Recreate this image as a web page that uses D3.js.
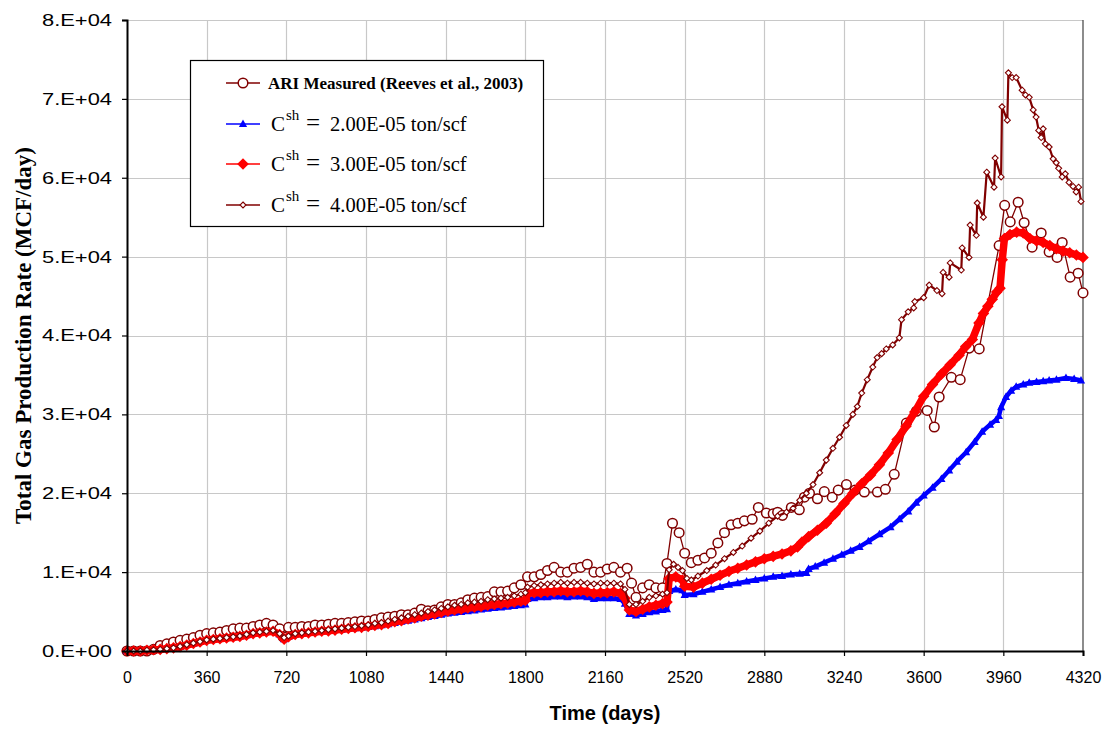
<!DOCTYPE html>
<html>
<head>
<meta charset="utf-8">
<script src="https://cdn.jsdelivr.net/npm/d3@7"></script>
<style>
  body { margin: 0; background: #fff; }
  svg { display: block; }
  .axis text { font-family: "Liberation Sans", Arial, sans-serif; fill: #000; }
</style>
</head>
<body>
<svg id="chart" width="1110" height="729"></svg>
<script>
// Axis ticks and labels
const xTicks = [0, 360, 720, 1080, 1440, 1800, 2160, 2520, 2880, 3240, 3600, 3960, 4320];
const yTicks = [0, 10000, 20000, 30000, 40000, 50000, 60000, 70000, 80000];
const yTickLabels = ["0.E+00", "1.E+04", "2.E+04", "3.E+04", "4.E+04", "5.E+04", "6.E+04", "7.E+04", "8.E+04"];

// ARI measured gas rate, [day, MCF/day]
const measured = [[0,0],[30,0],[60,0],[90,0],[120,200],[150,700],[180,900],[210,1150],[240,1350],[270,1500],[300,1700],[330,2000],[360,2200],[390,2300],[420,2400],[450,2600],[480,2800],[510,2900],[540,2900],[570,3100],[600,3300],[630,3500],[660,3300],[690,2800],[705,1800],[730,3000],[760,3000],[790,3100],[820,3100],[850,3300],[880,3300],[910,3400],[940,3500],[970,3500],[1000,3600],[1030,3700],[1060,3800],[1090,3800],[1120,4000],[1150,4200],[1180,4300],[1210,4400],[1240,4600],[1270,4600],[1300,4800],[1330,5300],[1360,5100],[1390,5200],[1420,5600],[1450,5900],[1480,5900],[1510,6100],[1540,6500],[1570,6700],[1600,6800],[1630,6900],[1660,7500],[1690,7500],[1720,7600],[1750,8000],[1780,8400],[1810,9400],[1840,9400],[1870,9700],[1900,10200],[1930,10600],[1960,10000],[1990,10000],[2020,10500],[2050,10600],[2080,11000],[2110,10000],[2140,10000],[2170,10400],[2200,10600],[2230,10000],[2260,10500],[2280,8600],[2300,6800],[2330,8000],[2360,8400],[2390,8000],[2420,8000],[2440,11100],[2465,16200],[2495,15000],[2520,12400],[2550,11200],[2580,11500],[2610,11800],[2640,12400],[2670,13700],[2700,15000],[2730,16000],[2760,16200],[2790,16500],[2825,16700],[2853,18200],[2889,17500],[2920,17400],[2940,17600],[2962,17200],[3002,18200],[3038,17900],[3061,19500],[3084,20000],[3120,19300],[3151,20200],[3187,19500],[3214,20400],[3251,21100],[3290,20400],[3332,20150],[3391,20150],[3427,20500],[3467,22400],[3522,28900],[3567,30400],[3616,30500],[3648,28400],[3670,32200],[3725,34700],[3765,34400],[3806,38400],[3851,38300],[3941,51400],[3966,56500],[3991,54400],[4027,56900],[4054,54300],[4090,51200],[4131,53000],[4167,50600],[4203,49900],[4226,51800],[4262,47400],[4298,47900],[4320,45400]];

// Simulated rate, Csh = 2.00E-05 ton/scf
const sim2 = [[0,0],[30,0],[60,0],[90,100],[120,150],[150,200],[180,300],[210,400],[240,550],[270,750],[300,950],[330,1150],[360,1350],[390,1450],[420,1550],[450,1650],[480,1750],[510,1850],[540,2000],[570,2200],[600,2300],[630,2400],[660,2500],[690,2100],[710,1500],[730,1800],[760,2100],[790,2200],[820,2300],[850,2400],[880,2500],[910,2550],[940,2650],[970,2700],[1000,2800],[1030,2900],[1060,2950],[1090,3050],[1120,3150],[1150,3250],[1180,3400],[1210,3550],[1240,3700],[1270,3850],[1300,4000],[1330,4150],[1360,4300],[1390,4450],[1420,4600],[1450,4750],[1480,4850],[1510,4950],[1540,5050],[1570,5150],[1600,5250],[1630,5350],[1660,5450],[1690,5500],[1720,5600],[1750,5700],[1780,5800],[1800,5900],[1810,6600],[1840,6700],[1870,6800],[1900,6800],[1930,6900],[1960,6900],[1990,6800],[2020,6900],[2050,6900],[2080,6800],[2110,6600],[2140,6700],[2170,6700],[2200,6700],[2230,6600],[2250,6000],[2270,4700],[2300,4500],[2330,4700],[2360,4900],[2390,5000],[2420,5200],[2440,5300],[2450,7600],[2480,7800],[2510,7700],[2520,7100],[2560,7200],[2600,7500],[2640,7800],[2680,8100],[2720,8400],[2760,8600],[2800,8800],[2840,9000],[2880,9200],[2920,9400],[2960,9500],[3000,9700],[3040,9800],[3070,9900],[3080,10400],[3110,10700],[3150,11200],[3190,11700],[3230,12200],[3270,12700],[3310,13200],[3350,13900],[3400,14800],[3450,15700],[3490,16700],[3530,17700],[3566,18800],[3600,19700],[3640,20700],[3680,21800],[3715,22900],[3750,24000],[3792,25200],[3830,26500],[3864,27800],[3900,28700],[3927,29300],[3940,29800],[3950,30900],[3972,32200],[3995,33000],[4018,33500],[4050,33800],[4077,34000],[4110,34100],[4140,34200],[4167,34300],[4200,34400],[4243,34600],[4280,34500],[4311,34300]];

// Simulated rate, Csh = 3.00E-05 ton/scf
const sim3 = [[0,0],[30,0],[60,0],[90,100],[120,150],[150,200],[180,300],[210,400],[240,550],[270,750],[300,950],[330,1150],[360,1350],[390,1450],[420,1550],[450,1650],[480,1750],[510,1850],[540,2000],[570,2200],[600,2300],[630,2400],[660,2500],[690,2100],[710,1500],[730,1800],[760,2100],[790,2200],[820,2300],[850,2400],[880,2500],[910,2550],[940,2650],[970,2750],[1000,2850],[1030,2950],[1060,3000],[1090,3100],[1120,3250],[1150,3350],[1180,3500],[1210,3700],[1240,3850],[1270,4050],[1300,4200],[1330,4400],[1360,4550],[1390,4700],[1420,4900],[1450,5050],[1480,5200],[1510,5300],[1540,5450],[1570,5550],[1600,5650],[1630,5800],[1660,5900],[1690,6000],[1720,6050],[1750,6200],[1780,6300],[1800,6400],[1810,7300],[1840,7400],[1870,7400],[1900,7500],[1930,7500],[1960,7600],[1990,7500],[2020,7500],[2050,7600],[2080,7500],[2110,7300],[2140,7400],[2170,7400],[2200,7500],[2230,7300],[2250,6700],[2270,5200],[2300,5000],[2330,5300],[2360,5600],[2390,5800],[2420,6000],[2440,6200],[2450,9200],[2480,9400],[2510,9000],[2520,8200],[2560,8100],[2600,8600],[2640,9100],[2680,9600],[2720,10100],[2760,10500],[2800,10900],[2840,11300],[2880,11700],[2920,12000],[2960,12300],[3000,12700],[3030,13200],[3050,13800],[3080,14500],[3120,15300],[3160,16200],[3200,17400],[3240,18700],[3280,20000],[3320,21200],[3360,22300],[3400,23600],[3440,25100],[3480,26800],[3520,28500],[3560,30300],[3600,32300],[3640,33800],[3680,35100],[3720,36300],[3760,37500],[3790,38600],[3820,39500],[3850,41600],[3870,42800],[3890,43700],[3910,44600],[3930,45500],[3945,46000],[3955,49600],[3965,52300],[3990,52800],[4020,53100],[4050,53000],[4080,52300],[4110,52000],[4140,51800],[4170,51400],[4200,51000],[4230,50700],[4260,50500],[4290,50200],[4320,49900]];

// Simulated rate, Csh = 4.00E-05 ton/scf
const sim4 = [[0,0],[30,0],[60,0],[90,100],[120,150],[150,200],[180,300],[210,400],[240,600],[270,800],[300,1000],[330,1200],[360,1400],[390,1500],[420,1600],[450,1700],[480,1800],[510,1900],[540,2100],[570,2300],[600,2400],[630,2500],[660,2600],[690,2200],[710,1700],[730,1900],[760,2200],[790,2300],[820,2400],[850,2500],[880,2600],[910,2700],[940,2800],[970,2900],[1000,3000],[1030,3100],[1060,3200],[1090,3300],[1120,3500],[1150,3600],[1180,3800],[1210,4000],[1240,4200],[1270,4400],[1300,4600],[1330,4800],[1360,5000],[1390,5200],[1420,5400],[1450,5600],[1480,5800],[1510,5900],[1540,6100],[1570,6200],[1600,6300],[1630,6500],[1660,6600],[1690,6700],[1720,6800],[1750,7000],[1780,7200],[1800,7400],[1810,8100],[1840,8300],[1870,8400],[1900,8500],[1930,8600],[1960,8700],[1990,8600],[2020,8700],[2050,8700],[2080,8600],[2110,8500],[2140,8600],[2170,8600],[2200,8600],[2230,8500],[2250,7800],[2270,5900],[2300,5900],[2330,6300],[2360,6800],[2390,7000],[2420,7200],[2440,7400],[2450,10300],[2470,11000],[2490,10600],[2510,10200],[2530,9200],[2550,9000],[2580,9500],[2620,10200],[2660,10900],[2700,11700],[2740,12500],[2780,13300],[2820,14300],[2860,15200],[2900,16200],[2940,17100],[2980,17600],[3010,18100],[3040,19100],[3070,20000],[3100,21100],[3130,22600],[3160,24200],[3190,25700],[3220,27100],[3250,28600],[3280,30000],[3300,31000],[3320,32700],[3345,34400],[3370,36000],[3390,37200],[3410,37700],[3431,38300],[3460,38800],[3490,39700],[3500,42000],[3530,43000],[3555,43500],[3560,44300],[3600,44800],[3625,46400],[3660,45700],[3683,45300],[3688,48000],[3715,47400],[3720,49200],[3770,48300],[3774,51100],[3805,49900],[3810,54000],[3838,52700],[3842,56800],[3870,55000],[3885,60700],[3918,58800],[3923,62500],[3950,60100],[3954,69000],[3978,67300],[3983,73300],[4000,72700],[4018,72700],[4045,71100],[4060,70500],[4077,70200],[4095,68600],[4108,67700],[4120,66000],[4131,65100],[4140,66200],[4150,64300],[4167,63900],[4185,62400],[4199,61900],[4210,61200],[4226,60100],[4240,60500],[4257,59400],[4275,58900],[4289,58200],[4300,58800],[4311,57000]];

const svg = d3.select("#chart");
const plot = { left: 127, right: 1083, top: 20, bottom: 651 };
const serif = '"Liberation Serif", "Times New Roman", serif';
const sans = '"Liberation Sans", Arial, sans-serif';

const x = d3.scaleLinear().domain([0, 4320]).range([plot.left, plot.right]);
const y = d3.scaleLinear().domain([0, 80000]).range([plot.bottom, plot.top]);

// gridlines
const grid = svg.append("g");
grid.selectAll("line.v").data(xTicks.slice(1, -1)).join("line")
  .attr("x1", d => Math.round(x(d)) + 0.5).attr("x2", d => Math.round(x(d)) + 0.5)
  .attr("y1", plot.top).attr("y2", plot.bottom)
  .attr("stroke", "#c8c8c8").attr("stroke-width", 1.2);
grid.selectAll("line.h").data(yTicks.slice(1)).join("line")
  .attr("x1", plot.left).attr("x2", plot.right)
  .attr("y1", d => Math.round(y(d)) + 0.5).attr("y2", d => Math.round(y(d)) + 0.5)
  .attr("stroke", "#c8c8c8").attr("stroke-width", 1.2);
// right edge of plot area
svg.append("line")
  .attr("x1", x(4320)).attr("x2", x(4320))
  .attr("y1", plot.top).attr("y2", plot.bottom)
  .attr("stroke", "#404040").attr("stroke-width", 1.2);

// marker shapes
const diamond = r => `M0,${-r}L${r},0L0,${r}L${-r},0Z`;
const triangle = s => `M0,${-s * 0.6}L${s * 0.55},${s * 0.4}L${-s * 0.55},${s * 0.4}Z`;

const line = d3.line().x(d => x(d[0])).y(d => y(d[1]));

// each series: connecting line (band width for the dense simulated runs) plus markers
const series = [
  { data: measured, color: "#800000", width: 1.3, band: 1.3,
    draw: g => g.append("circle").attr("r", 4.8).attr("fill", "#fff").attr("stroke", "#800000").attr("stroke-width", 1.5) },
  { data: sim2, color: "#0000ff", width: 1.5, band: 4.5,
    draw: g => g.append("path").attr("d", triangle(7.5)).attr("fill", "#0000ff") },
  { data: sim3, color: "#ff0000", width: 1.5, band: 7.5,
    draw: g => g.append("path").attr("d", diamond(5.8)).attr("fill", "#ff0000") },
  { data: sim4, color: "#800000", width: 1.5, band: 2.2,
    draw: g => g.append("path").attr("d", diamond(3)).attr("fill", "#fff").attr("stroke", "#800000").attr("stroke-width", 1.1) }
];

series.forEach(s => {
  const g = svg.append("g");
  g.append("path").datum(s.data).attr("d", line)
    .attr("fill", "none").attr("stroke", s.color).attr("stroke-width", s.band)
    .attr("stroke-linejoin", "round");
  g.selectAll("g.m").data(s.data).join("g")
    .attr("transform", d => `translate(${x(d[0])},${y(d[1])})`)
    .each(function () { s.draw(d3.select(this)); });
});

// axes
const xAxis = d3.axisBottom(x).tickValues(xTicks).tickFormat(d => d).tickSize(5).tickPadding(16);
const yAxis = d3.axisLeft(y).tickValues(yTicks).tickFormat((d, i) => yTickLabels[i]).tickSize(5).tickPadding(10);

const gx = svg.append("g").attr("class", "axis").attr("transform", `translate(0,${plot.bottom})`).call(xAxis);
const gy = svg.append("g").attr("class", "axis").attr("transform", `translate(${plot.left},0)`).call(yAxis);
[gx, gy].forEach(g => {
  g.select(".domain").attr("stroke", "#000").attr("stroke-width", 2);
  g.selectAll(".tick line").attr("stroke", "#000").attr("stroke-width", 1.2);
  g.selectAll(".tick text").attr("font-size", 16);
});
gy.selectAll(".tick text")
  .attr("font-size", 17)
  .attr("textLength", 70).attr("lengthAdjust", "spacingAndGlyphs");

// axis titles
svg.append("text").attr("x", (plot.left + plot.right) / 2).attr("y", 720)
  .attr("text-anchor", "middle")
  .attr("font-family", sans)
  .attr("font-weight", "bold").attr("font-size", 20)
  .text("Time (days)");
svg.append("text")
  .attr("transform", `translate(31,${(plot.top + plot.bottom) / 2}) rotate(-90)`)
  .attr("text-anchor", "middle")
  .attr("font-family", serif)
  .attr("font-weight", "bold").attr("font-size", 23)
  .text("Total Gas Production Rate (MCF/day)");

// legend
const legendItems = [
  { label: "ARI Measured (Reeves et al., 2003)", s: series[0] },
  { label: "2.00E-05 ton/scf", s: series[1] },
  { label: "3.00E-05 ton/scf", s: series[2] },
  { label: "4.00E-05 ton/scf", s: series[3] }
];
const legend = svg.append("g");
legend.append("rect").attr("x", 190.5).attr("y", 60.5).attr("width", 353).attr("height", 166)
  .attr("fill", "#fff").attr("stroke", "#000").attr("stroke-width", 1.2);
const rowY = [83, 124, 164, 205];
legendItems.forEach((item, i) => {
  const row = legend.append("g").attr("transform", `translate(0,${rowY[i]})`);
  row.append("line").attr("x1", 226).attr("x2", 260).attr("y1", 0).attr("y2", 0)
    .attr("stroke", item.s.color).attr("stroke-width", item.s.width);
  item.s.draw(row.append("g").attr("transform", "translate(243,0)"));
  if (i === 0) {
    row.append("text").attr("x", 268).attr("y", 6)
      .attr("font-family", serif)
      .attr("font-weight", "bold").attr("font-size", 17)
      .text(item.label);
  } else {
    const t = row.append("text").attr("x", 271).attr("y", 7)
      .attr("font-family", serif)
      .attr("font-size", 21);
    t.append("tspan").text("C");
    t.append("tspan").attr("font-size", 15).attr("dy", -11).attr("dx", 1).text("sh");
    t.append("tspan").attr("x", 306).attr("dy", 11).attr("font-size", 25).text("=");
    t.append("tspan").attr("x", 330).attr("font-size", 20.5).text(item.label);
  }
});
</script>
</body>
</html>
